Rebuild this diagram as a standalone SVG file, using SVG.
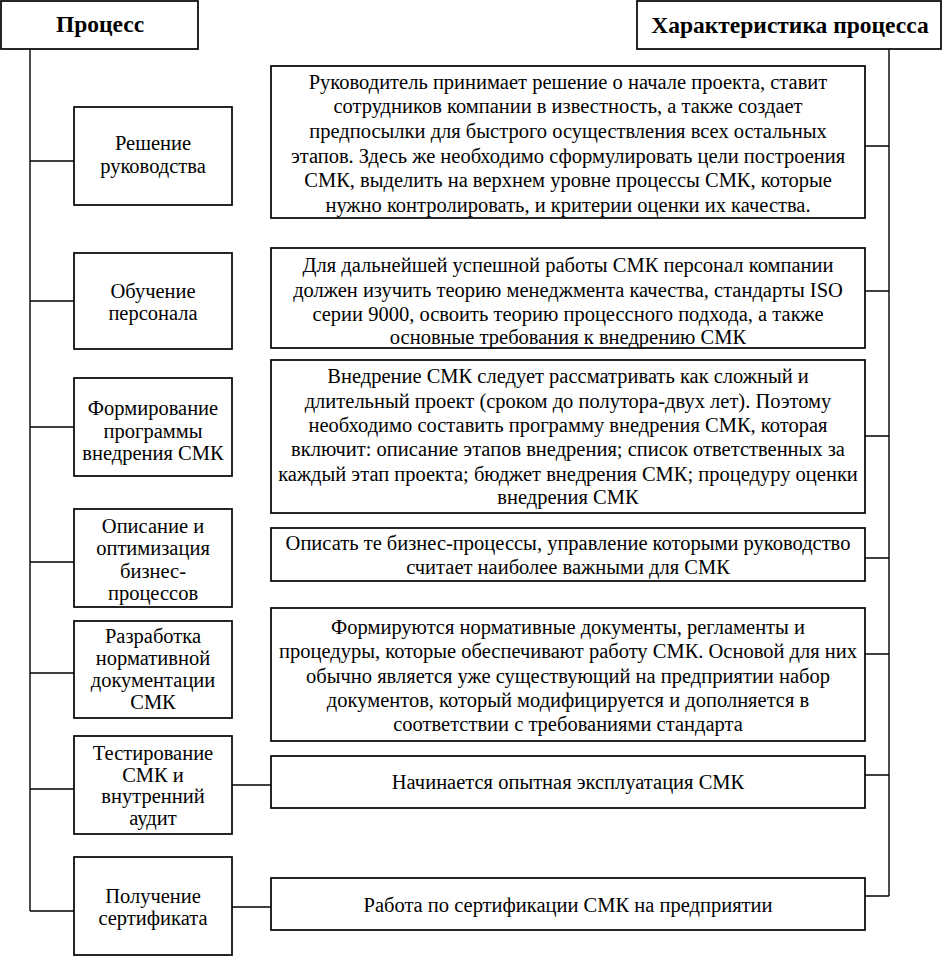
<svg xmlns="http://www.w3.org/2000/svg" width="942" height="957" viewBox="0 0 942 957">
<style>
.box{fill:#fff;stroke:#000;stroke-width:1.7}
.ln{fill:none;stroke:#000;stroke-width:1.4}
</style>
<rect width="942" height="957" fill="#fff"/>
<g id="connectors">
<path class="ln" d="M30,49V911"/>
<path class="ln" d="M30,161H74M30,301H74M30,427H74M30,562H74M30,673H74M30,789H74M30,911H74"/>
<path class="ln" d="M232,785H271M232,907H271"/>
<path class="ln" d="M889,49V896"/>
<path class="ln" d="M865,146H889M865,291H889M865,436H889M865,558H889M865,654H889M865,775H889M865,896H889"/>
</g>
<g id="hdr-process"><rect class="box" x="1" y="1" width="197" height="48"/><text font-family="Liberation Serif" font-size="23.5" font-weight="bold" text-anchor="middle" x="100" y="32">Процесс</text></g>
<g id="hdr-char"><rect class="box" x="637" y="1" width="304" height="48"/><text font-family="Liberation Serif" font-size="23.5" font-weight="bold" text-anchor="middle" x="790" y="33">Характеристика процесса</text></g>

<g id="p1"><rect class="box" x="74" y="107" width="158" height="98"/><text font-family="Liberation Serif" font-size="20.5" text-anchor="middle"><tspan x="153" y="150">Решение</tspan><tspan x="153" y="173">руководства</tspan></text></g>
<g id="p2"><rect class="box" x="74" y="253" width="158" height="96"/><text font-family="Liberation Serif" font-size="20.5" text-anchor="middle"><tspan x="153" y="298">Обучение</tspan><tspan x="153" y="320">персонала</tspan></text></g>
<g id="p3"><rect class="box" x="74" y="378" width="158" height="98"/><text font-family="Liberation Serif" font-size="20.5" text-anchor="middle"><tspan x="153" y="415">Формирование</tspan><tspan x="153" y="438">программы</tspan><tspan x="153" y="460">внедрения СМК</tspan></text></g>
<g id="p4"><rect class="box" x="74" y="509" width="158" height="98"/><text font-family="Liberation Serif" font-size="20.5" text-anchor="middle"><tspan x="153" y="533">Описание и</tspan><tspan x="153" y="555">оптимизация</tspan><tspan x="153" y="578">бизнес-</tspan><tspan x="153" y="600">процессов</tspan></text></g>
<g id="p5"><rect class="box" x="74" y="621" width="158" height="97"/><text font-family="Liberation Serif" font-size="20.5" text-anchor="middle"><tspan x="153" y="643">Разработка</tspan><tspan x="153" y="665">нормативной</tspan><tspan x="153" y="687">документации</tspan><tspan x="153" y="709">СМК</tspan></text></g>
<g id="p6"><rect class="box" x="74" y="736" width="158" height="98"/><text font-family="Liberation Serif" font-size="20.5" text-anchor="middle"><tspan x="153" y="760">Тестирование</tspan><tspan x="153" y="782">СМК и</tspan><tspan x="153" y="803">внутренний</tspan><tspan x="153" y="825">аудит</tspan></text></g>
<g id="p7"><rect class="box" x="74" y="857" width="158" height="98"/><text font-family="Liberation Serif" font-size="20.5" text-anchor="middle"><tspan x="153" y="903">Получение</tspan><tspan x="153" y="925">сертификата</tspan></text></g>

<g id="d1"><rect class="box" x="271" y="66" width="594" height="152"/><text font-family="Liberation Serif" font-size="20.5" text-anchor="middle"><tspan x="568" y="89">Руководитель принимает решение о начале проекта, ставит</tspan><tspan x="568" y="113">сотрудников компании в известность, а также создает</tspan><tspan x="568" y="138">предпосылки для быстрого осуществления всех остальных</tspan><tspan x="568" y="163">этапов. Здесь же необходимо сформулировать цели построения</tspan><tspan x="568" y="187">СМК, выделить на верхнем уровне процессы СМК, которые</tspan><tspan x="568" y="212">нужно контролировать, и критерии оценки их качества.</tspan></text></g>
<g id="d2"><rect class="box" x="271" y="248" width="594" height="100"/><text font-family="Liberation Serif" font-size="20.5" text-anchor="middle"><tspan x="568" y="272">Для дальнейшей успешной работы СМК персонал компании</tspan><tspan x="568" y="297">должен изучить теорию менеджмента качества, стандарты ISO</tspan><tspan x="568" y="321">серии 9000, освоить теорию процессного подхода, а также</tspan><tspan x="568" y="344">основные требования к внедрению СМК</tspan></text></g>
<g id="d3"><rect class="box" x="271" y="360" width="594" height="153"/><text font-family="Liberation Serif" font-size="20.5" text-anchor="middle"><tspan x="568" y="383">Внедрение СМК следует рассматривать как сложный и</tspan><tspan x="568" y="408">длительный проект (сроком до полутора-двух лет). Поэтому</tspan><tspan x="568" y="432">необходимо составить программу внедрения СМК, которая</tspan><tspan x="568" y="456">включит: описание этапов внедрения; список ответственных за</tspan><tspan x="568" y="481">каждый этап проекта; бюджет внедрения СМК; процедуру оценки</tspan><tspan x="568" y="504">внедрения СМК</tspan></text></g>
<g id="d4"><rect class="box" x="271" y="528" width="594" height="53"/><text font-family="Liberation Serif" font-size="20.5" text-anchor="middle"><tspan x="568" y="550">Описать те бизнес-процессы, управление которыми руководство</tspan><tspan x="568" y="574">считает наиболее важными для СМК</tspan></text></g>
<g id="d5"><rect class="box" x="271" y="608" width="594" height="133"/><text font-family="Liberation Serif" font-size="20.5" text-anchor="middle"><tspan x="568" y="634">Формируются нормативные документы, регламенты и</tspan><tspan x="568" y="658">процедуры, которые обеспечивают работу СМК. Основой для них</tspan><tspan x="568" y="683">обычно является уже существующий на предприятии набор</tspan><tspan x="568" y="707">документов, который модифицируется и дополняется в</tspan><tspan x="568" y="731">соответствии с требованиями стандарта</tspan></text></g>
<g id="d6"><rect class="box" x="271" y="756" width="594" height="52"/><text font-family="Liberation Serif" font-size="20.5" text-anchor="middle"><tspan x="568" y="789">Начинается опытная эксплуатация СМК</tspan></text></g>
<g id="d7"><rect class="box" x="271" y="878" width="594" height="52"/><text font-family="Liberation Serif" font-size="20.5" text-anchor="middle"><tspan x="568" y="912">Работа по сертификации СМК на предприятии</tspan></text></g>
</svg>
